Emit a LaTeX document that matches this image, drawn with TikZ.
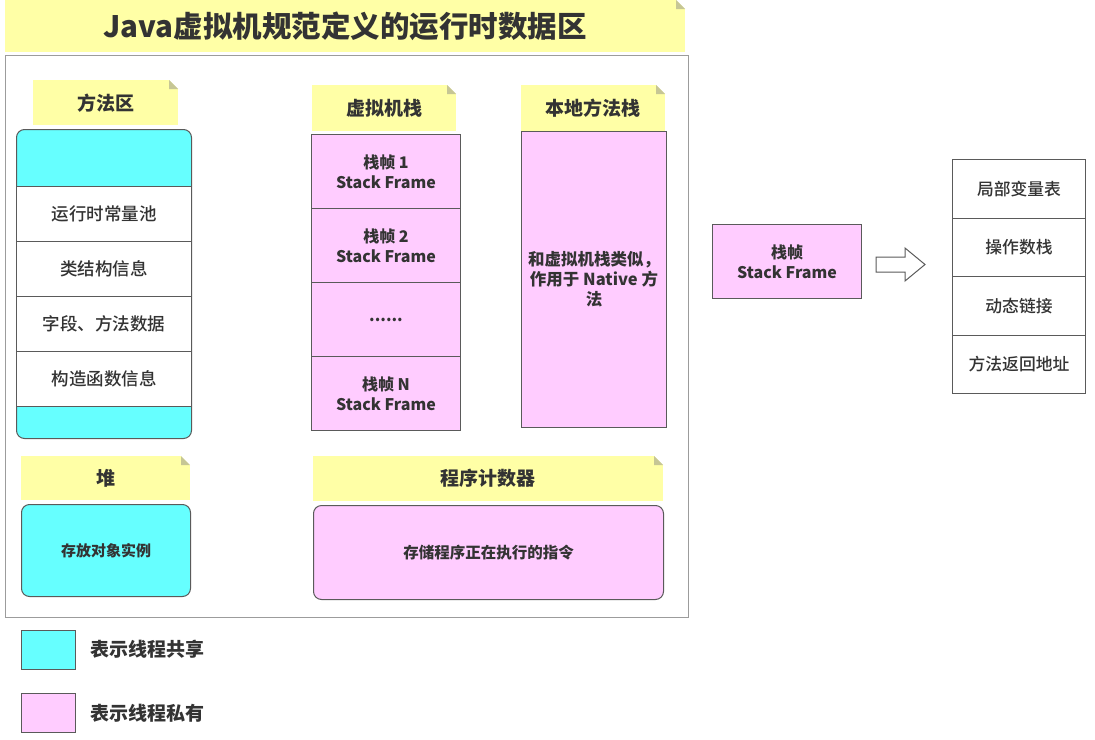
\documentclass[tikz,border=0pt]{standalone}
\usepackage{fontspec}
\setmainfont{Noto Sans CJK SC}
\newfontfamily\medfont{Noto Sans CJK SC Medium}
\definecolor{shared}{HTML}{66FFFF}
\definecolor{private}{HTML}{FFCCFF}
\definecolor{notefill}{HTML}{FFFFA6}
\definecolor{rim}{HTML}{5A5A5A}
\definecolor{ink}{HTML}{333333}
\newcommand\gapdots{......}
\tikzset{
	cell/.style={draw=rim,line width=1pt,minimum width=#1,anchor=north west},
	notebox/.style={fill=notefill,anchor=north west,font=\bfseries\fontsize{19}{21}\selectfont,
		path picture={
			\fill[white] ([xshift=-9pt]path picture bounding box.north east) -- (path picture bounding box.north east) -- ([yshift=-9pt]path picture bounding box.north east) -- cycle;
			\fill[notefill!55!gray] ([xshift=-9pt]path picture bounding box.north east) -- ([xshift=-9pt,yshift=-9pt]path picture bounding box.north east) -- ([yshift=-9pt]path picture bounding box.north east) -- cycle;
		}},
}
\begin{document}
\begin{tikzpicture}[x=1pt,y=-1pt,every node/.style={text=ink,align=center,inner sep=0pt}]
	\useasboundingbox (0,0) rectangle (1095,739);
	\node[notebox,minimum width=680pt,minimum height=52pt,font=\bfseries\fontsize{29.5}{31}\selectfont] (title) at (5,0) {Java虚拟机规范定义的运行时数据区};
	\node[draw=rim!60,line width=1pt,minimum width=683pt,minimum height=562pt,anchor=north west] (frame) at (5,55) {};

	\node[notebox,minimum width=145pt,minimum height=45pt] (mlabel) at (33,80) {方法区};
	\node[cell=175pt,fill=shared,rounded corners=8pt,minimum height=309pt] (marea) at (16,129) {};
	\foreach \t [count=\i] in {运行时常量池,类结构信息,字段、方法数据,构造函数信息} {
			\node[cell=175pt,fill=white,minimum height=55pt,font=\medfont\fontsize{17.5}{19}\selectfont] (m\i) at (16,{186+55*(\i-1)}) {\t};
		}

	\node[notebox,minimum width=144pt,minimum height=46pt] (vlabel) at (312,85) {虚拟机栈};
	\foreach \t [count=\i] in {{栈帧 1\\Stack Frame},{栈帧 2\\Stack Frame},\gapdots,{栈帧 N\\Stack Frame}} {
			\node[cell=149pt,fill=private,minimum height=74pt,font=\bfseries\fontsize{16}{20}\selectfont] (v\i) at (311,{134+74*(\i-1)}) {\t};
		}

	\node[notebox,minimum width=144pt,minimum height=46pt] (nlabel) at (521,85) {本地方法栈};
	\node[cell=145pt,fill=private,minimum height=296pt,font=\bfseries\fontsize{16.5}{20}\selectfont] (native) at (521,131) {和虚拟机栈类似，\\作用于 Native 方\\法};

	\node[notebox,minimum width=169pt,minimum height=44pt] (hlabel) at (21,456) {堆};
	\node[cell=169pt,fill=shared,rounded corners=8pt,minimum height=92pt,font=\bfseries\fontsize{15}{16}\selectfont] (heap) at (21,504) {存放对象实例};

	\node[notebox,minimum width=350pt,minimum height=45pt] (plabel) at (313,456) {程序计数器};
	\node[cell=350pt,fill=private,rounded corners=8pt,minimum height=94pt,font=\bfseries\fontsize{15.5}{16}\selectfont] (pc) at (313,505) {存储程序正在执行的指令};

	\node[cell=54pt,fill=shared,minimum height=39pt] (key1) at (21,630) {};
	\node[anchor=west,font=\bfseries\fontsize{19}{21}\selectfont] (key1t) at (90,649) {表示线程共享};
	\node[cell=54pt,fill=private,minimum height=39pt] (key2) at (21,693) {};
	\node[anchor=west,font=\bfseries\fontsize{19}{21}\selectfont] (key2t) at (90,713) {表示线程私有};

	\node[cell=149pt,fill=private,minimum height=74pt,font=\bfseries\fontsize{16}{20}\selectfont] (sf) at (712,224) {{\medfont 栈帧}\\Stack Frame};
	\draw[rim,fill=white,line width=1pt] (876,257) -- (905,257) -- (905,248) -- (925,264.5) -- (905,281) -- (905,272) -- (876,272) -- cycle;
	\foreach \t [count=\i] in {局部变量表,操作数栈,动态链接,方法返回地址} {
			\node[cell=133pt,fill=white,minimum height=58.5pt,font=\medfont\fontsize{16.8}{18}\selectfont] (f\i) at (952,{159+58.5*(\i-1)}) {\t};
		}
\end{tikzpicture}
\end{document}
